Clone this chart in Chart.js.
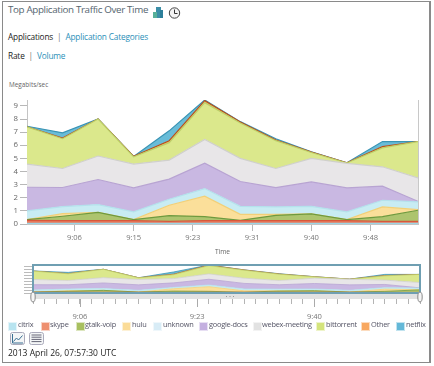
<!DOCTYPE html>
<html><head><meta charset="utf-8">
<style>
html,body{margin:0;padding:0;background:#fff;width:434px;height:366px;overflow:hidden;font-family:"Open Sans",sans-serif}
#frame{position:absolute;left:2px;top:1px;width:426px;height:360px;border:1px solid #8a8a8a;border-width:1px 2px 1px 1px}
.t{position:absolute;white-space:nowrap;line-height:1}
.sw{position:absolute;top:322px;width:7px;height:7px;border:1px solid rgba(255,255,255,.6)}
canvas{position:absolute;display:block}
a{color:#2a8fb8}
</style></head><body>
<div id="frame"></div>
<div class="t" style="left:8px;top:5px;font-size:9.8px;letter-spacing:-.35px;color:#55656f">Top Application Traffic Over Time</div>
<svg style="position:absolute;left:152px;top:6px" width="32" height="14" viewBox="0 0 32 14">
<rect x="4" y="1" width="5" height="11" fill="#3c8fa8"/><rect x="1" y="6" width="4" height="6" fill="#58b09a"/><rect x="8" y="4" width="3" height="8" fill="#2c7f9a"/>
<circle cx="22.5" cy="7" r="5.2" fill="#f4f4f4" stroke="#444" stroke-width="1"/><path d="M22.5 3.5V7.5H25.5" stroke="#333" fill="none"/>
</svg>
<div class="t" style="left:8px;top:33px;font-size:8.3px;letter-spacing:-.18px;color:#222">Applications &nbsp;<span style="color:#777">|</span>&nbsp; <a>Application Categories</a></div>
<div class="t" style="left:8px;top:52px;font-size:8.3px;letter-spacing:-.18px;color:#222">Rate &nbsp;<span style="color:#777">|</span>&nbsp; <a>Volume</a></div>
<div class="t" style="left:9px;top:82px;font-size:6.4px;color:#666">Megabits/sec</div>
<canvas id="main" width="434" height="170" style="left:0;top:90px;width:434px;height:170px"></canvas>
<canvas id="over" width="434" height="62" style="left:0;top:258px;width:434px;height:62px"></canvas>
<div id="legend"></div>
<svg style="position:absolute;left:10px;top:332px" width="34" height="13" viewBox="0 0 34 13">
<rect x=".5" y=".5" width="14" height="12" rx="2" fill="#f4f6f7" stroke="#aab"/><path d="M2.5 2V11H13M3.5 9.5L6.5 6L8.5 8L12.5 3.5" stroke="#3a6f92" fill="none"/>
<rect x="19.5" y=".5" width="14" height="12" rx="2" fill="#f4f6f7" stroke="#aab"/><path d="M21.5 3H31.5M21.5 5.2H31.5M21.5 7.4H31.5M21.5 9.6H31.5" stroke="#667"/>
</svg>
<div class="t" style="left:8px;top:349px;font-size:8.5px;color:#222">2013 April 26, 07:57:30 UTC</div>
<script src="https://cdn.jsdelivr.net/npm/chart.js@4/dist/chart.umd.min.js"></script>
<script>
// minutes after 9:00
const minutes=[0,5,10,15,20,25,30,35,40,45,50,55];
const xTickMinutes=[6.67,15,23.33,31.67,40,48.33];
const xTickLabels=["9:06","9:15","9:23","9:31","9:40","9:48"];
const overviewMajor=[6.67,23.33,40];
const overviewLabels=["9:06","9:23","9:40"];
const seriesNames=["citrix","skype","gtalk-voip","hulu","unknown","google-docs","webex-meeting","bittorrent","Other","netflix"];
const citrix=[.05,.05,.05,.05,.05,.05,.05,.05,.05,.05,.05,.05];
const skype=[.23,.2,.2,.2,.15,.2,.2,.2,.2,.2,.15,.15];
const gtalk=[.05,.34,.64,.08,.44,.31,.03,.41,.52,.08,.36,.85];
const hulu=[0,.2,0,0,.79,1.56,.46,.08,0,0,.74,.05];
const unknown=[.67,.54,.59,.59,.46,.58,.61,.56,.58,.59,.51,.58];
const googleDocs=[1.8,1.45,1.91,1.83,1.53,1.94,1.89,1.48,1.86,1.83,1.07,.05];
const webex=[1.77,1.45,1.79,1.82,1.45,1.81,1.76,1.45,1.79,1.87,1.48,1.79];
const bittorrent=[2.83,2.27,2.82,.55,1.33,2.8,2.7,2.12,.45,.03,1.44,2.76];
const other=[0,.05,0,.03,.15,.15,.08,.05,.03,.02,.1,0];
const netflix=[.05,.4,0,0,.75,.05,.02,.1,.02,0,.38,0];
const seriesValues=[citrix,skype,gtalk,hulu,unknown,googleDocs,webex,bittorrent,other,netflix];
const fills=["#b8e4f0","#e87a5c","#adc46e","#fbdf9a","#c8ecf3","#c9b8e2","#e8e6e8","#dbe88c","#f8ac68","#68bcd8"];
const lines=["#9cd6e6","#d8583c","#6f9a3e","#f2d078","#b4e2ec","#b8a4d2","#d0d0cc","#bcd068","#b8501c","#3a94b4"];
const swatches=["#b8e4f0","#ee9070","#a8c060","#fbdc98","#d8ecf6","#c4b0e0","#e2e2e2","#d4e47c","#f8a860","#64b8d8"];
const legendLeft=[8,41,76,122,153,199,253,316,361,396];
const legendText=[18,50,85,132,163,209,262,326,371,406];

const lg=document.getElementById('legend');
seriesNames.forEach((n,i)=>{
 const s=document.createElement('div');s.className='sw';s.style.left=legendLeft[i]+'px';s.style.background=swatches[i];lg.appendChild(s);
 const t=document.createElement('div');t.className='t';t.textContent=n;t.style.cssText=`left:${legendText[i]}px;top:321px;font-size:7.4px;letter-spacing:-.25px;color:#556`;lg.appendChild(t);
});
const makeSets=(bw)=>seriesNames.map((n,i)=>({label:n,data:minutes.map((m,j)=>({x:m,y:seriesValues[i][j]})),
 backgroundColor:fills[i],borderColor:lines[i],borderWidth:bw,pointRadius:0,tension:0,fill:i===0?'origin':'-1'}));
Chart.defaults.font.family='"Open Sans",sans-serif';

const mainDecor={id:'mainDecor',afterDraw(c){const g=c.ctx,a=c.chartArea;g.save();g.strokeStyle='#c8c8c8';g.lineWidth=1;
 g.beginPath();g.moveTo(a.right+.5,a.top);g.lineTo(a.right+.5,a.bottom);g.stroke();g.restore();}};
new Chart(document.getElementById('main'),{type:'line',data:{datasets:makeSets(1.2)},plugins:[mainDecor],options:{
 responsive:false,animation:false,events:[],
 layout:{padding:{top:10,right:16,bottom:0,left:0}},
 plugins:{legend:{display:false},tooltip:{enabled:false},title:{display:false}},
 scales:{
  x:{type:'linear',min:0,max:55,
   afterFit(s){s.height=36;},
   afterBuildTicks(s){s.ticks=xTickMinutes.map(v=>({value:v}));},
   ticks:{autoSkip:false,maxRotation:0,padding:2,color:'#777',font:{size:7.6},callback:v=>xTickLabels[xTickMinutes.indexOf(v)]},
   grid:{drawOnChartArea:false,tickLength:7,color:'#b8b8b8'},border:{color:'#c4c4c4'},
   title:{display:true,text:'Time',color:'#666',font:{size:6.6},padding:{top:0,bottom:4}}},
  y:{stacked:true,min:0,max:9.45,
   afterFit(s){s.width=27;},
   afterBuildTicks(s){s.ticks=[0,1,2,3,4,5,6,7,8,9].map(v=>({value:v}));},
   ticks:{padding:2,color:'#666',font:{size:7.8}},
   grid:{drawOnChartArea:false,tickLength:7,color:'#b8b8b8'},border:{color:'#c4c4c4'}}
 }}});

const overDecor={id:'overDecor',
 afterDraw(c){const g=c.ctx,a=c.chartArea,xs=c.scales.x;g.save();
 g.fillStyle='#e2e2e2';g.fillRect(a.left,a.bottom+1,a.right-a.left,5);
 g.strokeStyle='#6f9fb2';g.lineWidth=2;g.strokeRect(a.left,a.top,a.right-a.left,a.bottom-a.top);
 g.strokeStyle='#aaa';g.lineWidth=1;
 overviewMajor.forEach(m=>{const p=Math.round(xs.getPixelForValue(m))+.5;g.beginPath();g.moveTo(p,a.bottom+6);g.lineTo(p,a.bottom+14);g.stroke();});
 g.fillStyle='#999';[226,229.5,233].forEach(p=>g.fillRect(p,a.bottom+3,1,1));
 g.strokeStyle='#888';g.fillStyle='#f6f6f6';
 [a.left,a.right].forEach(p=>{g.beginPath();g.ellipse(p,a.bottom+4,2.2,5,0,0,Math.PI*2);g.fill();g.stroke();});
 g.restore();}};
new Chart(document.getElementById('over'),{type:'line',data:{datasets:makeSets(.8)},plugins:[overDecor],options:{
 responsive:false,animation:false,events:[],
 layout:{padding:{top:7,right:14,bottom:0,left:0}},
 plugins:{legend:{display:false},tooltip:{enabled:false}},
 scales:{
  x:{type:'linear',min:0,max:55,
   afterFit(s){s.height=27;},
   afterBuildTicks(s){const t=[];for(let k=0;k<=33;k++)t.push({value:k*5/3});s.ticks=t;},
   ticks:{autoSkip:false,maxRotation:0,padding:8,color:'#777',font:{size:7.6},
    callback:(v)=>{const i=overviewMajor.findIndex(m=>Math.abs(m-v)<.02);return i<0?'':overviewLabels[i];}},
   grid:{drawOnChartArea:false,tickLength:11,color:'#b4b4b4',offset:false},border:{display:false}},
  y:{stacked:true,min:0,max:9.45,
   afterFit(s){s.width=33;},
   afterBuildTicks(s){s.ticks=[0,1,2,3,4,5,6,7,8,9].map(v=>({value:v}));},
   ticks:{display:false},grid:{drawOnChartArea:false,tickLength:9,color:'#bbb'},border:{display:false}}
 }}});
</script>
</body></html>
